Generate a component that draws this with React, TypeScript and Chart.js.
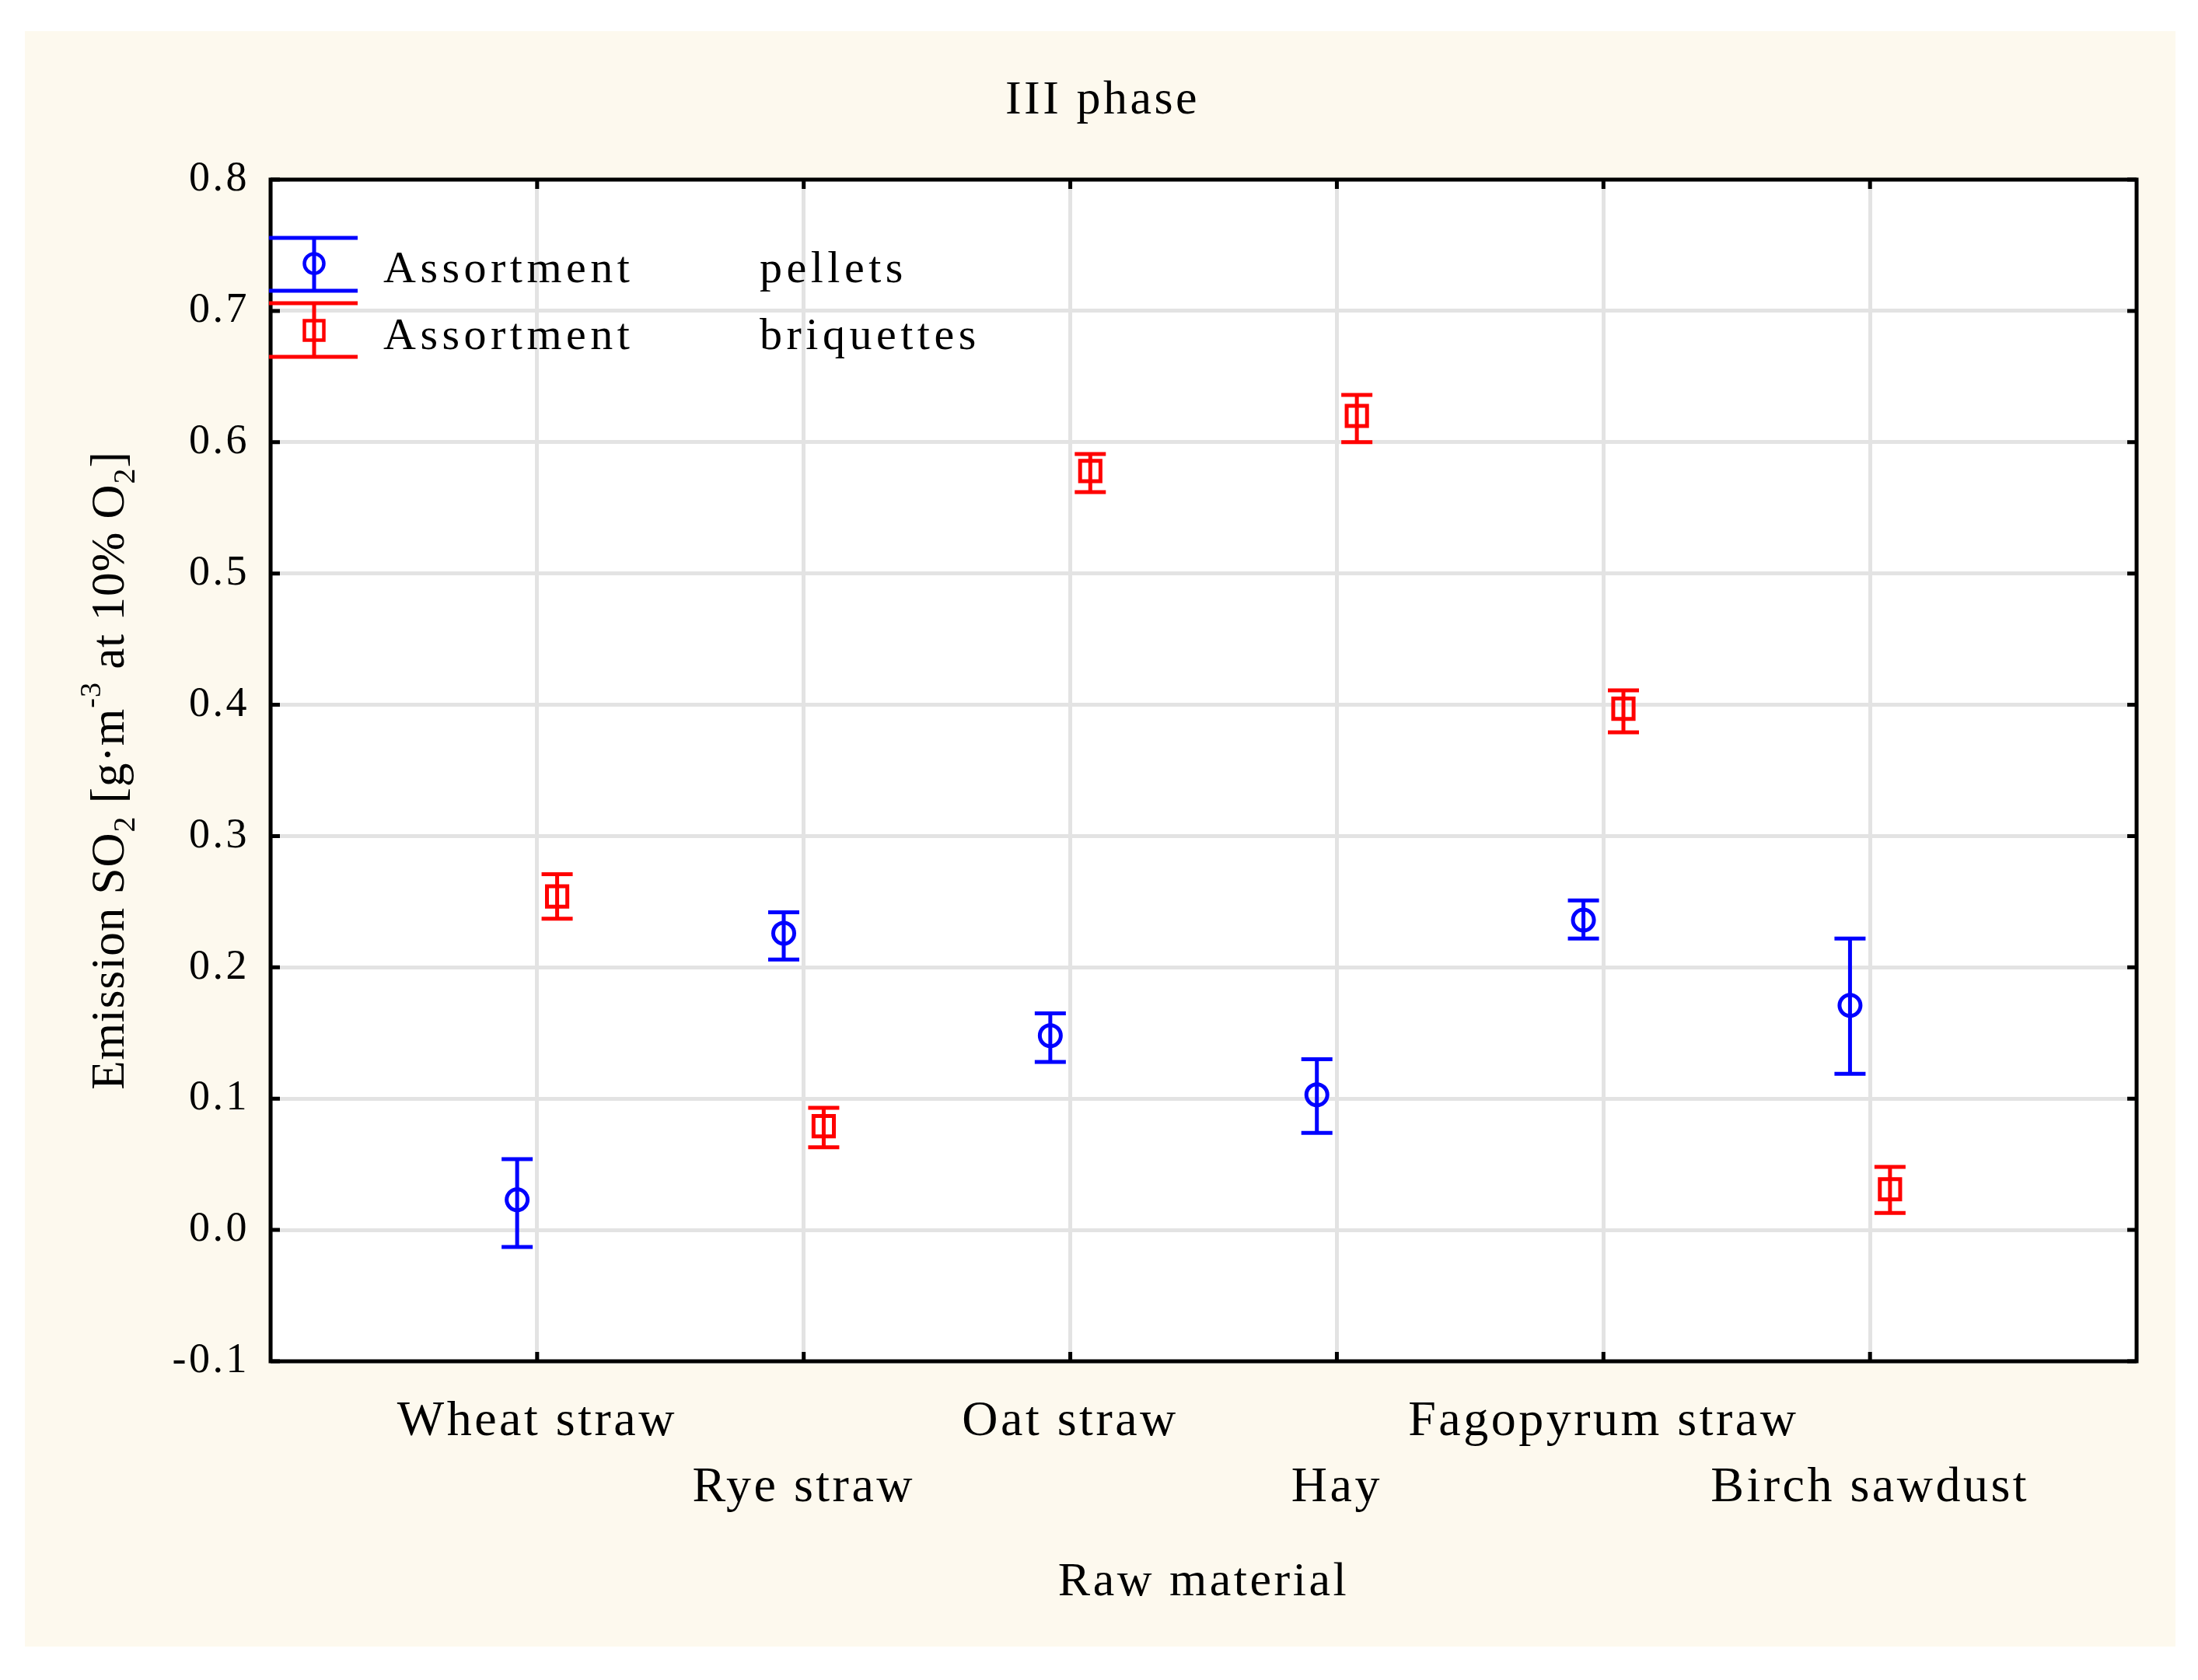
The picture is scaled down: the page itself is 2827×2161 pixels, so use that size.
import React, { useEffect, useRef } from 'react';
import { Chart, registerables } from 'chart.js';

Chart.register(...registerables);

// ---- data ----
const categories = ['Wheat straw', 'Rye straw', 'Oat straw', 'Hay', 'Fagopyrum straw', 'Birch sawdust'];
const pelletsMean = [0.023, 0.226, 0.148, 0.103, 0.236, 0.171];
const pelletsLow = [-0.013, 0.206, 0.128, 0.074, 0.222, 0.119];
const pelletsHigh = [0.054, 0.242, 0.165, 0.130, 0.251, 0.222];
const briqMean = [0.254, 0.079, 0.578, 0.620, 0.397, 0.031];
const briqLow = [0.237, 0.063, 0.562, 0.600, 0.379, 0.013];
const briqHigh = [0.271, 0.093, 0.591, 0.636, 0.411, 0.048];
const yMin = -0.1;
const yMax = 0.8;
const yStep = 0.1;
const seriesNames = [
  ['Assortment', 'pellets'],
  ['Assortment', 'briquettes'],
];
const chartTitle = 'III phase';
const xTitle = 'Raw material';

const BLUE = '#0000ff';
const RED = '#ff0000';
const BEIGE = '#fdf9ee';
const FONT = "'Liberation Serif', 'Times New Roman', serif";
const OFFSET = 0.075;

const W = 2827;
const H = 2161;

const decorPlugin = {
  id: 'decor',
  beforeDraw(chart: any) {
    const ctx = chart.ctx;
    const a = chart.chartArea;
    ctx.save();
    ctx.fillStyle = '#ffffff';
    ctx.fillRect(0, 0, W, H);
    ctx.fillStyle = BEIGE;
    ctx.fillRect(32, 40, 2766, 2078);
    ctx.fillStyle = '#ffffff';
    ctx.fillRect(a.left, a.top, a.right - a.left, a.bottom - a.top);
    ctx.restore();
    (ctx as any).letterSpacing = '3.5px';
  },
  beforeDatasetsDraw(chart: any) {
    const ctx = chart.ctx;
    const a = chart.chartArea;
    const xs = chart.scales.x;
    const ys = chart.scales.y;
    ctx.save();
    // frame
    ctx.strokeStyle = '#000';
    ctx.lineWidth = 5;
    ctx.strokeRect(a.left, a.top, a.right - a.left, a.bottom - a.top);
    // inward tick marks
    const tl = 12;
    ctx.beginPath();
    ys.ticks.forEach((t: any) => {
      const py = ys.getPixelForValue(t.value);
      ctx.moveTo(a.left, py);
      ctx.lineTo(a.left + tl, py);
      ctx.moveTo(a.right, py);
      ctx.lineTo(a.right - tl, py);
    });
    categories.forEach((_c, i) => {
      const px = xs.getPixelForValue(i + 1);
      ctx.moveTo(px, a.bottom);
      ctx.lineTo(px, a.bottom - tl);
      ctx.moveTo(px, a.top);
      ctx.lineTo(px, a.top + tl);
    });
    ctx.stroke();
    // error bars
    const drawErr = (off: number, lo: number[], hi: number[], color: string) => {
      ctx.strokeStyle = color;
      ctx.lineWidth = 5;
      ctx.beginPath();
      categories.forEach((_c, i) => {
        const px = xs.getPixelForValue(i + 1 + off);
        const pl = ys.getPixelForValue(lo[i]);
        const ph = ys.getPixelForValue(hi[i]);
        ctx.moveTo(px, pl);
        ctx.lineTo(px, ph);
        ctx.moveTo(px - 20, pl);
        ctx.lineTo(px + 20, pl);
        ctx.moveTo(px - 20, ph);
        ctx.lineTo(px + 20, ph);
      });
      ctx.stroke();
    };
    drawErr(-OFFSET, pelletsLow, pelletsHigh, BLUE);
    drawErr(OFFSET, briqLow, briqHigh, RED);
    ctx.restore();
  },
  afterDraw(chart: any) {
    const ctx = chart.ctx;
    const a = chart.chartArea;
    ctx.save();
    ctx.fillStyle = '#000';
    // title
    (ctx as any).letterSpacing = '3.5px';
    ctx.font = `62px ${FONT}`;
    ctx.textAlign = 'center';
    ctx.textBaseline = 'alphabetic';
    ctx.fillText(chartTitle, 1418, 146);

    // y axis title with sub/superscripts
    (ctx as any).letterSpacing = '1px';
    const segs = [
      { t: 'Emission SO', s: 61, dy: 0 },
      { t: '2', s: 40, dy: 14 },
      { t: ' [g\u00b7m', s: 61, dy: 0 },
      { t: '-3', s: 38, dy: -30 },
      { t: ' at 10% O', s: 61, dy: 0 },
      { t: '2', s: 40, dy: 14 },
      { t: ']', s: 61, dy: 0 },
    ];
    let total = 0;
    const widths = segs.map((sg) => {
      ctx.font = `${sg.s}px ${FONT}`;
      const w = ctx.measureText(sg.t).width;
      total += w;
      return w;
    });
    ctx.translate(159, (a.top + a.bottom) / 2);
    ctx.rotate(-Math.PI / 2);
    ctx.textAlign = 'left';
    let x = -total / 2;
    segs.forEach((sg, i) => {
      ctx.font = `${sg.s}px ${FONT}`;
      ctx.fillText(sg.t, x, sg.dy);
      x += widths[i];
    });
    ctx.restore();

    // legend
    ctx.save();
    const rows = [
      { top: 306, bot: 374, cy: 339, base: 363, color: BLUE, shape: 'circle' },
      { top: 390, bot: 459, cy: 425, base: 449, color: RED, shape: 'rect' },
    ];
    rows.forEach((r, i) => {
      ctx.strokeStyle = r.color;
      ctx.lineWidth = 5;
      ctx.beginPath();
      ctx.moveTo(346, r.top);
      ctx.lineTo(460, r.top);
      ctx.moveTo(346, r.bot);
      ctx.lineTo(460, r.bot);
      ctx.moveTo(404, r.top);
      ctx.lineTo(404, r.bot);
      ctx.stroke();
      ctx.lineWidth = 4.5;
      ctx.beginPath();
      if (r.shape === 'circle') {
        ctx.arc(404, r.cy, 12.5, 0, Math.PI * 2);
      } else {
        ctx.rect(404 - 12.5, r.cy - 12.5, 25, 25);
      }
      ctx.stroke();
      ctx.fillStyle = '#000';
      (ctx as any).letterSpacing = '5.5px';
      ctx.font = `58px ${FONT}`;
      ctx.textAlign = 'left';
      ctx.textBaseline = 'alphabetic';
      ctx.fillText(seriesNames[i][0], 493, r.base);
      ctx.fillText(seriesNames[i][1], 977, r.base);
    });
    ctx.restore();
  },
};

export default function App() {
  const ref = useRef<HTMLCanvasElement | null>(null);
  useEffect(() => {
    if (!ref.current) return;
    const chart = new Chart(ref.current, {
      type: 'scatter',
      data: {
        datasets: [
          {
            label: seriesNames[0].join(' '),
            data: categories.map((_c, i) => ({ x: i + 1 - OFFSET, y: pelletsMean[i] })),
            pointStyle: 'circle',
            pointRadius: 13.5,
            pointBorderWidth: 5,
            borderColor: BLUE,
            backgroundColor: 'rgba(0,0,0,0)',
            pointBackgroundColor: 'rgba(0,0,0,0)',
          },
          {
            label: seriesNames[1].join(' '),
            data: categories.map((_c, i) => ({ x: i + 1 + OFFSET, y: briqMean[i] })),
            pointStyle: 'rect',
            pointRadius: 18.5,
            pointBorderWidth: 5,
            borderColor: RED,
            backgroundColor: 'rgba(0,0,0,0)',
            pointBackgroundColor: 'rgba(0,0,0,0)',
          },
        ],
      },
      options: {
        responsive: false,
        animation: false,
        devicePixelRatio: 1,
        layout: { padding: { left: 0, right: 79, top: 231, bottom: 0 } },
        plugins: {
          legend: { display: false },
          title: { display: false },
          tooltip: { enabled: false },
        },
        scales: {
          x: {
            type: 'linear',
            min: 0,
            max: categories.length + 1,
            ticks: {
              stepSize: 1,
              autoSkip: false,
              maxRotation: 0,
              padding: 36,
              color: '#000',
              font: { family: FONT, size: 64, lineHeight: 1.33 },
              callback: (v: any) => {
                const i = Math.round(Number(v)) - 1;
                if (i < 0 || i >= categories.length) return '';
                return i % 2 === 0 ? [categories[i]] : ['', categories[i]];
              },
            },
            grid: { color: '#e3e3e3', lineWidth: 5, drawTicks: false },
            border: { display: false },
            title: {
              display: true,
              text: xTitle,
              color: '#000',
              font: { family: FONT, size: 62 },
              padding: { top: 0, bottom: 88 },
            },
            afterFit: (s: any) => {
              s.height = 410;
            },
          },
          y: {
            type: 'linear',
            min: yMin,
            max: yMax,
            ticks: {
              stepSize: yStep,
              padding: 27,
              color: '#000',
              font: { family: FONT, size: 54 },
              callback: (v: any) => Number(v).toFixed(1),
            },
            grid: { color: '#e3e3e3', lineWidth: 5, drawTicks: false },
            border: { display: false },
            afterFit: (s: any) => {
              s.width = 348;
            },
          },
        },
      },
      plugins: [decorPlugin],
    } as any);
    return () => chart.destroy();
  }, []);
  return (
    <div style={{ position: 'fixed', left: 0, top: 0, width: W, height: H, background: '#fff' }}>
      <canvas ref={ref} width={W} height={H} style={{ width: W, height: H, display: 'block' }} />
    </div>
  );
}
